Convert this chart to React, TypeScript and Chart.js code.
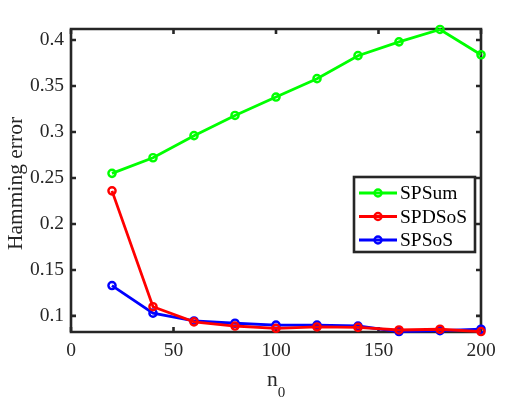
import React, { useEffect, useRef } from 'react';
import { Chart, registerables } from 'chart.js';

Chart.register(...registerables);

const nValues = [20, 40, 60, 80, 100, 120, 140, 160, 180, 200];
const spSum = [0.255, 0.272, 0.296, 0.318, 0.338, 0.358, 0.383, 0.398, 0.4115, 0.384];
const spdSos = [0.236, 0.110, 0.0935, 0.089, 0.0865, 0.088, 0.0875, 0.0847, 0.0855, 0.083];
const spSos = [0.133, 0.103, 0.0945, 0.092, 0.090, 0.090, 0.089, 0.083, 0.084, 0.0855];
const seriesNames = ['SPSum', 'SPDSoS', 'SPSoS'];
const seriesColors = ['#00ff00', '#ff0000', '#0000ff'];
const xTicks = [0, 50, 100, 150, 200];
const xTickLabels = ['0', '50', '100', '150', '200'];
const yTicks = [0.1, 0.15, 0.2, 0.25, 0.3, 0.35, 0.4];
const yTickLabels = ['0.1', '0.15', '0.2', '0.25', '0.3', '0.35', '0.4'];
const xMin = 0;
const xMax = 200;
const yMin = 0.0825;
const yMax = 0.412;
const yTitle = 'Hamming error';
const xTitleMain = 'n';
const xTitleSub = '0';

const AXIS = '#262626';
const FONT = '"Liberation Serif", "Times New Roman", serif';

const framePlugin = {
  id: 'frame',
  beforeDatasetsDraw(chart: any) {
    const { ctx, chartArea } = chart;
    const { left, right, top, bottom } = chartArea;
    const xs = chart.scales.x;
    const ys = chart.scales.y;
    ctx.save();
    ctx.strokeStyle = AXIS;
    ctx.lineWidth = 2.6;
    ctx.beginPath();
    ctx.rect(left, top, right - left, bottom - top);
    ctx.stroke();
    const tl = 5;
    ctx.beginPath();
    xTicks.forEach((v) => {
      const px = xs.getPixelForValue(v);
      ctx.moveTo(px, bottom);
      ctx.lineTo(px, bottom - tl);
      ctx.moveTo(px, top);
      ctx.lineTo(px, top + tl);
    });
    yTicks.forEach((v) => {
      const py = ys.getPixelForValue(v);
      ctx.moveTo(left, py);
      ctx.lineTo(left + tl, py);
      ctx.moveTo(right, py);
      ctx.lineTo(right - tl, py);
    });
    ctx.stroke();
    ctx.restore();
  },
  afterDraw(chart: any) {
    const { ctx, chartArea } = chart;
    ctx.save();
    // y title
    ctx.fillStyle = AXIS;
    ctx.font = `21.5px ${FONT}`;
    ctx.textAlign = 'center';
    ctx.textBaseline = 'middle';
    ctx.translate(16, 183.5);
    ctx.rotate(-Math.PI / 2);
    ctx.fillText(yTitle, 0, 0);
    ctx.restore();

    // x title with subscript
    ctx.save();
    ctx.fillStyle = AXIS;
    ctx.font = `21.5px ${FONT}`;
    ctx.textAlign = 'left';
    ctx.textBaseline = 'alphabetic';
    const nW = ctx.measureText(xTitleMain).width;
    ctx.font = `15px ${FONT}`;
    const sW = ctx.measureText(xTitleSub).width;
    const cx = (chartArea.left + chartArea.right) / 2;
    const startX = cx - (nW + sW) / 2;
    ctx.font = `21.5px ${FONT}`;
    ctx.fillText(xTitleMain, startX, 386);
    ctx.font = `15px ${FONT}`;
    ctx.fillText(xTitleSub, startX + nW, 397);
    ctx.restore();

    // legend
    ctx.save();
    const bx = 354, by = 177, bw = 121, bh = 75;
    ctx.fillStyle = '#ffffff';
    ctx.fillRect(bx, by, bw, bh);
    ctx.strokeStyle = AXIS;
    ctx.lineWidth = 2.6;
    ctx.strokeRect(bx, by, bw, bh);
    const rows = [193, 216.5, 240];
    chart.data.datasets.forEach((ds: any, i: number) => {
      const y = rows[i];
      ctx.strokeStyle = ds.borderColor;
      ctx.lineWidth = 2.8;
      ctx.beginPath();
      ctx.moveTo(359, y);
      ctx.lineTo(397, y);
      ctx.stroke();
      ctx.lineWidth = 2.4;
      ctx.beginPath();
      ctx.arc(378, y, 3.5, 0, Math.PI * 2);
      ctx.stroke();
      ctx.fillStyle = '#000000';
      ctx.font = `19.5px ${FONT}`;
      ctx.textAlign = 'left';
      ctx.textBaseline = 'middle';
      ctx.fillText(ds.label, 400, y + 1);
    });
    ctx.restore();
  },
};

export default function App() {
  const ref = useRef<HTMLCanvasElement | null>(null);
  useEffect(() => {
    document.body.style.margin = '0';
    const canvas = ref.current;
    if (!canvas) return;
    const mk = (i: number, data: number[]) => ({
      label: seriesNames[i],
      data: nValues.map((x, k) => ({ x, y: data[k] })),
      borderColor: seriesColors[i],
      backgroundColor: 'transparent',
      pointBorderColor: seriesColors[i],
      pointBackgroundColor: 'transparent',
      pointRadius: 3.6,
      pointBorderWidth: 2.4,
      borderWidth: 2.8,
      tension: 0,
      clip: false as any,
    });
    const chart = new Chart(canvas, {
      type: 'line',
      data: {
        datasets: [mk(0, spSum), mk(1, spdSos), mk(2, spSos)],
      },
      plugins: [framePlugin],
      options: {
        responsive: false,
        animation: false,
        devicePixelRatio: 1,
        layout: { padding: { left: 0, top: 29, right: 51, bottom: 0 } },
        plugins: {
          legend: { display: false },
          tooltip: { enabled: false },
        },
        scales: {
          x: {
            type: 'linear',
            min: xMin,
            max: xMax,
            afterBuildTicks: (s: any) => {
              s.ticks = xTicks.map((v) => ({ value: v }));
            },
            afterFit: (s: any) => {
              s.height = 67;
            },
            grid: { display: false, drawTicks: false },
            border: { display: false },
            ticks: {
              padding: 7,
              color: AXIS,
              font: { family: FONT, size: 19.5 },
              maxRotation: 0,
              autoSkip: false,
              callback: (v: any) => {
                const i = xTicks.indexOf(Number(v));
                return i >= 0 ? xTickLabels[i] : '';
              },
            },
          },
          y: {
            type: 'linear',
            min: yMin,
            max: yMax,
            afterBuildTicks: (s: any) => {
              s.ticks = yTicks.map((v) => ({ value: v }));
            },
            afterFit: (s: any) => {
              s.width = 71;
            },
            grid: { display: false, drawTicks: false },
            border: { display: false },
            ticks: {
              padding: 7,
              color: AXIS,
              font: { family: FONT, size: 19.5 },
              autoSkip: false,
              callback: (v: any) => {
                const i = yTicks.findIndex((t) => Math.abs(t - Number(v)) < 1e-9);
                return i >= 0 ? yTickLabels[i] : '';
              },
            },
          },
        },
      },
    });
    return () => chart.destroy();
  }, []);
  return (
    <div style={{ position: 'absolute', left: 0, top: 0, width: 532, height: 399, background: '#ffffff' }}>
      <canvas ref={ref} width={532} height={399} style={{ width: 532, height: 399 }} />
    </div>
  );
}
